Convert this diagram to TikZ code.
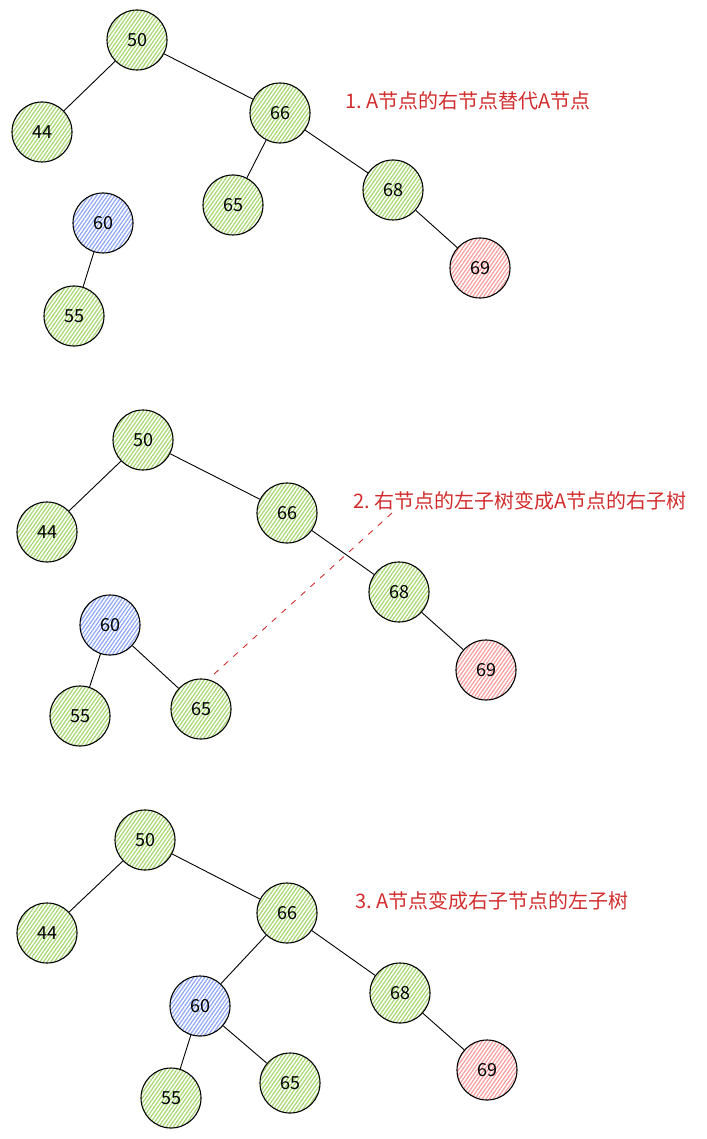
\documentclass[tikz,border=0pt]{standalone}
\usepackage{fontspec}
\setmainfont{Noto Sans CJK SC}
\newfontfamily\cjk{Noto Sans CJK SC}
\usepackage{tikz}
\usetikzlibrary{positioning, patterns.meta}
\definecolor{leafgreen}{RGB}{165, 215, 110}
\definecolor{nodeblue}{RGB}{140, 165, 245}
\definecolor{nodered}{RGB}{248, 155, 155}
\definecolor{notered}{RGB}{210, 45, 45}

\begin{document}
\begin{tikzpicture}[
  x=1pt, y=-1pt,
  treenode/.style={circle, draw=black, line width=1.1pt, minimum size=60pt, inner sep=0pt, font=\fontsize{18}{18}\selectfont,
    pattern={Lines[angle=55, distance=3pt, line width=1.2pt]}},
  greennode/.style={treenode, pattern color=leafgreen},
  bluenode/.style={treenode, pattern color=nodeblue},
  rednode/.style={treenode, pattern color=nodered},
  edge/.style={line width=0.9pt, black},
  note/.style={anchor=west, text=notered, font=\cjk\fontsize{20}{20}\selectfont}
]
  \useasboundingbox (0,0) rectangle (706,1139);

  % Step 1
  \node[greennode] (a50) at (137, 40) {50};
  \node[greennode] (a44) at (42, 132) {44};
  \node[greennode] (a66) at (280, 113) {66};
  \node[greennode] (a65) at (233, 205) {65};
  \node[greennode] (a68) at (393, 190) {68};
  \node[rednode] (a69) at (480, 268) {69};
  \node[bluenode] (a60) at (103, 223) {60};
  \node[greennode] (a55) at (74, 316) {55};

  \draw[edge] (a50) -- (a44);
  \draw[edge] (a50) -- (a66);
  \draw[edge] (a66) -- (a65);
  \draw[edge] (a66) -- (a68);
  \draw[edge] (a68) -- (a69);
  \draw[edge] (a60) -- (a55);

  \node[note] (n1) at (342, 101) {1.\ A节点的右节点替代A节点};

  % Step 2
  \node[greennode] (b50) at (143, 440) {50};
  \node[greennode] (b44) at (47, 532) {44};
  \node[greennode] (b66) at (287, 513) {66};
  \node[greennode] (b68) at (399, 592) {68};
  \node[rednode] (b69) at (486, 670) {69};
  \node[bluenode] (b60) at (110, 625) {60};
  \node[greennode] (b55) at (80, 716) {55};
  \node[greennode] (b65) at (201, 709) {65};

  \draw[edge] (b50) -- (b44);
  \draw[edge] (b50) -- (b66);
  \draw[edge] (b66) -- (b68);
  \draw[edge] (b68) -- (b69);
  \draw[edge] (b60) -- (b55);
  \draw[edge] (b60) -- (b65);

  \node[note] (n2) at (350, 501) {2.\ 右节点的左子树变成A节点的右子树};
  \coordinate (d1) at (392, 513);
  \coordinate (d2) at (213, 675);
  \draw[notered, line width=0.9pt, dash pattern=on 6pt off 7pt] (d1) -- (d2);

  % Step 3
  \node[greennode] (c50) at (145, 840) {50};
  \node[greennode] (c44) at (47, 933) {44};
  \node[greennode] (c66) at (287, 913) {66};
  \node[greennode] (c68) at (400, 993) {68};
  \node[rednode] (c69) at (487, 1070) {69};
  \node[bluenode] (c60) at (200, 1006) {60};
  \node[greennode] (c55) at (171, 1098) {55};
  \node[greennode] (c65) at (290, 1083) {65};

  \draw[edge] (c50) -- (c44);
  \draw[edge] (c50) -- (c66);
  \draw[edge] (c66) -- (c60);
  \draw[edge] (c66) -- (c68);
  \draw[edge] (c68) -- (c69);
  \draw[edge] (c60) -- (c55);
  \draw[edge] (c60) -- (c65);

  \node[note] (n3) at (352, 901) {3.\ A节点变成右子节点的左子树};
\end{tikzpicture}
\end{document}
